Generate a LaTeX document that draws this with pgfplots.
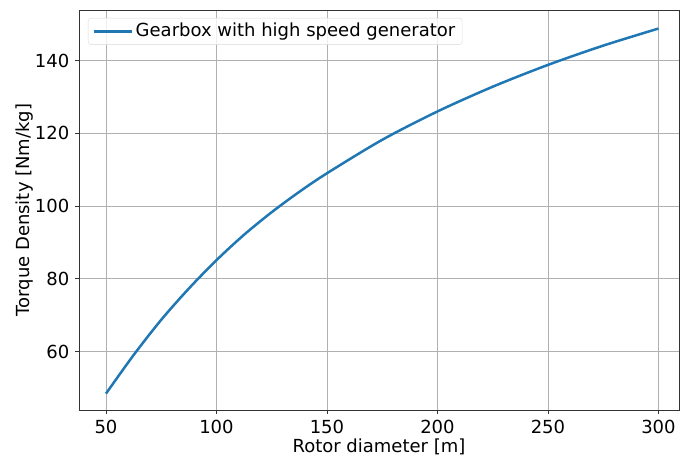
\documentclass[border=0pt]{standalone}
\usepackage{pgfplots}
\pgfplotsset{compat=1.18}
\usepackage{fontspec}
\setmainfont{DejaVu Sans}
\definecolor{mplblue}{HTML}{1F77B4}
\definecolor{gridgray}{HTML}{B0B0B0}
\definecolor{spine}{HTML}{333333}

% Torque density against rotor diameter
\pgfplotstableread{
D      T
50     48.4
62.5   59.0
75     68.7
87.5   77.3
100    85.1
112.5  92.1
125    98.3
137.5  103.9
150    109.0
175    118.2
200    126.0
225    132.8
250    138.8
275    144.1
300    148.8
}\torquedata

\begin{document}
\fontsize{18}{21}\selectfont
\begin{tikzpicture}
\begin{axis}[
  name=ax,
  scale only axis,
  width=600pt, height=400pt,
  xmin=37.8, xmax=309.3,
  ymin=43.9, ymax=153.9,
  xtick={50,100,...,300},
  ytick={60,80,...,140},
  tick pos=left,
  tick align=outside,
  major tick length=3.5pt,
  tick style={color=spine, line width=0.9pt},
  axis line style={color=spine, line width=0.9pt},
  grid=major,
  grid style={color=gridgray, line width=0.8pt},
  /pgf/number format/assume math mode=true,
  ticklabel style={font=\fontsize{18}{21}\selectfont},
  xlabel={Rotor diameter [m]},
  ylabel={Torque Density [Nm/kg]},
  label style={font=\fontsize{18}{21}\selectfont},
  x label style={at={(axis description cs:0.5,-0.105)}, anchor=base},
  y label style={at={(axis description cs:-0.0833,0.5)}, anchor=base},
  legend cell align=left,
  legend style={
    at={(axis description cs:0,1)}, anchor=north west,
    xshift=9pt, yshift=-8pt,
    draw=black!15, rounded corners=3pt,
    fill=white, fill opacity=0.8, text opacity=1,
    inner xsep=5pt, inner ysep=3pt,
    font=\fontsize{18}{21}\selectfont,
  },
  legend image code/.code={\draw[#1] (0pt,0pt) -- (38pt,0pt);},
]
\addplot[color=mplblue, line width=2.5pt, smooth, tension=0.5] table[x=D, y=T] {\torquedata};
\addlegendentry{Gearbox with high speed generator}
\end{axis}
\pgfresetboundingbox
\path ([shift={(-79pt,-51pt)}]ax.south west) rectangle ([shift={(1pt,10pt)}]ax.north east);
\end{tikzpicture}
\end{document}
